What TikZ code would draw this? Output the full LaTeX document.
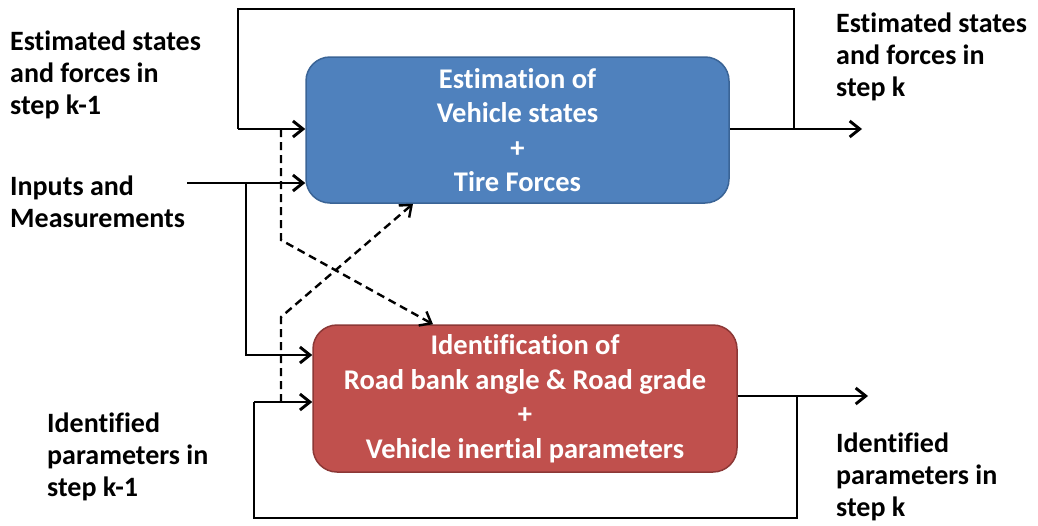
\documentclass[tikz,border=0pt]{standalone}
\usepackage{fontspec}
\setmainfont[Ligatures=NoCommon]{Carlito}
\usetikzlibrary{arrows.meta,calc}
\definecolor{boxblue}{HTML}{4F81BD}
\definecolor{boxblueedge}{HTML}{3A6496}
\definecolor{boxred}{HTML}{C0504D}
\definecolor{boxrededge}{HTML}{8C3836}
\tikzset{
  blockbox/.style={rounded corners=24pt, line width=1.5pt, inner sep=0pt,
    text=white, align=center, font=\fontsize{28.5}{34.5}\selectfont\bfseries},
  % anchored at the baseline of the last line of the label
  sidelabel/.style={inner sep=0pt, align=left, anchor=base west,
    font=\fontsize{28}{32}\selectfont\bfseries},
  flow/.style={line width=2.9pt, -{Straight Barb[length=10pt,width=16pt,line width=2.9pt]}},
  wire/.style={line width=2.9pt},
  dashflow/.style={line width=2.4pt, dash pattern=on 8pt off 5pt,
    -{Straight Barb[length=10pt,width=16pt,line width=2.4pt]}},
}
\begin{document}
\begin{tikzpicture}[x=1pt,y=-1pt]
\useasboundingbox (0,0) rectangle (1038,525);

% processing blocks
\node[blockbox, draw=boxblueedge, fill=boxblue, minimum width=423pt, minimum height=146pt]
  (est) at (517.5,130) {Estimation of\\Vehicle states\\+\\Tire Forces};
\node[blockbox, draw=boxrededge, fill=boxred, minimum width=424pt, minimum height=147pt]
  (idf) at (525,398.5) {Identification of\\Road bank angle \& Road grade\\+\\Vehicle inertial parameters};

% side labels
\node[sidelabel] (lblprev) at (10,114) {Estimated states\\and forces in\\step k-1};
\node[sidelabel] (lblin) at (10,227) {Inputs and\\Measurements};
\node[sidelabel] (lblidprev) at (47,496) {Identified\\parameters in\\step k-1};
\node[sidelabel] (lblnext) at (836,96) {Estimated states\\and forces in\\step k};
\node[sidelabel] (lblidnext) at (836,516) {Identified\\parameters in\\step k};

% routing points
\coordinate (estout) at (862,129);
\coordinate (estbr) at (794,129);
\coordinate (toptr) at (794,9);
\coordinate (toptl) at (238,9);
\coordinate (topbl) at (238,129);
\coordinate (instart) at (187,183);
\coordinate (inbr) at (246,183);
\coordinate (inlow) at (246,355);
\coordinate (idfout) at (868,396);
\coordinate (idfbr) at (797,396);
\coordinate (botbr) at (797,518);
\coordinate (botbl) at (254,518);
\coordinate (botup) at (254,402);

% estimation loop
\draw[flow] (est.east |- estout) -- (estout);
\draw[wire] (estbr) -- (toptr) -- (toptl) -- (topbl);
\draw[flow] (topbl) -- (topbl -| est.west);

% inputs
\draw[flow] (instart) -- (instart -| est.west);
\draw[flow] (inbr) -- (inlow) -- (inlow -| idf.west);

% identification loop
\draw[flow] (idf.east |- idfout) -- (idfout);
\draw[wire] (idfbr) -- (botbr) -- (botbl) -- (botup);
\draw[flow] (botup) -- (botup -| idf.west);

% cross exchange between blocks
\coordinate (da) at (281,129);
\coordinate (dabend) at (281,240);
\coordinate (daend) at (433,0);
\coordinate (db) at (281,402);
\coordinate (dbbend) at (281,317);
\coordinate (dbend) at (413,0);
\draw[dashflow] (da) -- (dabend) -- (daend |- idf.north);
\draw[dashflow] (db) -- (dbbend) -- (dbend |- est.south);
\end{tikzpicture}
\end{document}
